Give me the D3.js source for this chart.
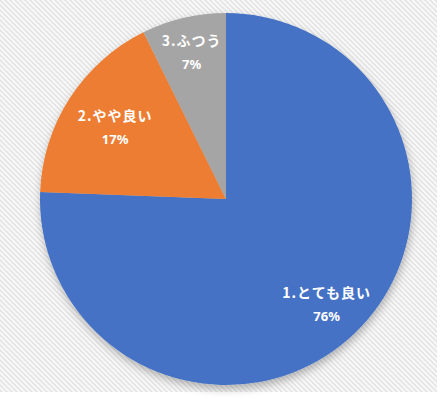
<!DOCTYPE html>
<html>
<head>
<meta charset="utf-8">
<script src="https://cdn.jsdelivr.net/npm/d3@7/dist/d3.min.js"></script>
<style>
  html, body { margin: 0; padding: 0; background: #fff; }
  svg { display: block; }
</style>
</head>
<body>
<svg id="chart" width="440" height="400"></svg>
<script>
// Survey answers: response categories and the number of respondents for each
const categories = ["1.とても良い", "2.やや良い", "3.ふつう"];
const counts = [31, 7, 3];
const colors = ["#4472C4", "#ED7D31", "#A5A5A5"];

const width = 440, height = 400;
const cx = 226, cy = 199, radius = 186;
// how far out (as a share of the radius) each slice's label sits
const labelRadius = [0.78, 0.71, 0.81];

const svg = d3.select("#chart");
const defs = svg.append("defs");

// light diagonal hatching used as the chart-area background
const pat = defs.append("pattern")
  .attr("id", "hatch")
  .attr("patternUnits", "userSpaceOnUse")
  .attr("width", 5).attr("height", 5);
pat.append("rect").attr("width", 5).attr("height", 5).attr("fill", "#fafafa");
pat.append("path")
  .attr("d", "M-1,-1 L6,6 M-1,4 L1,6 M4,-1 L6,1")
  .attr("stroke", "#e4e4e4").attr("stroke-width", 1.6);

// soft drop shadow beneath the pie
const shadow = defs.append("filter")
  .attr("id", "shadow")
  .attr("x", "-20%").attr("y", "-20%").attr("width", "140%").attr("height", "140%");
shadow.append("feDropShadow")
  .attr("dx", 1).attr("dy", 4).attr("stdDeviation", 4)
  .attr("flood-color", "#000").attr("flood-opacity", 0.28);

svg.append("rect")
  .attr("x", 0).attr("y", 0)
  .attr("width", 437).attr("height", 392)
  .attr("fill", "url(#hatch)");

const total = d3.sum(counts);
const data = categories.map((c, i) => ({ name: c, value: counts[i], color: colors[i], idx: i }));

const pie = d3.pie().value(d => d.value).sort(null);
const arc = d3.arc().innerRadius(0).outerRadius(radius);
const arcs = pie(data);

const g = svg.append("g").attr("transform", `translate(${cx},${cy})`);

g.append("g").attr("filter", "url(#shadow)")
  .selectAll("path")
  .data(arcs)
  .join("path")
  .attr("d", arc)
  .attr("fill", d => d.data.color);

const pctFmt = v => Math.round(v / total * 100) + "%";

const labels = g.selectAll("g.label")
  .data(arcs)
  .join("g")
  .attr("class", "label")
  .attr("transform", d => {
    const r = radius * labelRadius[d.data.idx];
    const a = (d.startAngle + d.endAngle) / 2;
    return `translate(${Math.sin(a) * r},${-Math.cos(a) * r})`;
  });

labels.append("text")
  .attr("text-anchor", "middle")
  .attr("y", -6)
  .attr("fill", "#fff")
  .attr("font-family", "'Noto Sans CJK JP', 'Noto Sans', sans-serif")
  .attr("font-weight", "bold")
  .attr("font-size", 14)
  .attr("letter-spacing", 1)
  .text(d => d.data.name);

labels.append("text")
  .attr("text-anchor", "middle")
  .attr("y", 17)
  .attr("fill", "#fff")
  .attr("font-family", "'Noto Sans', 'Noto Sans CJK JP', sans-serif")
  .attr("font-weight", "bold")
  .attr("font-size", 13)
  .text(d => pctFmt(d.data.value));
</script>
</body>
</html>
